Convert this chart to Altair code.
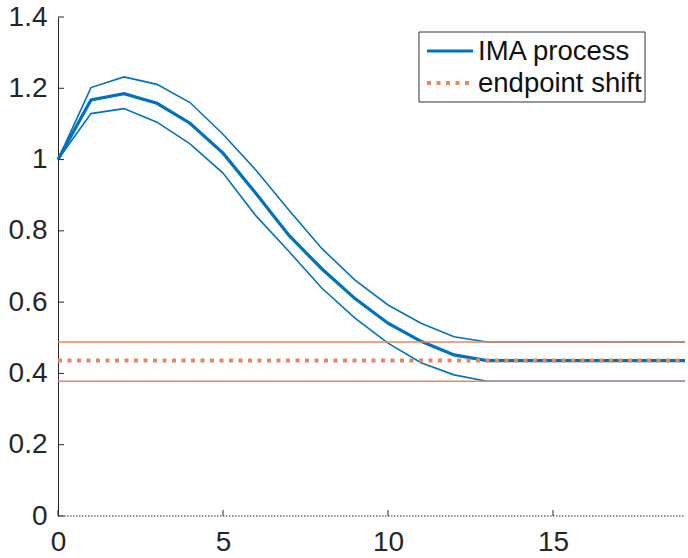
import altair as alt
import pandas as pd

# ---- data ----
steps = list(range(20))
ima_mean = [1.0, 1.167, 1.185, 1.158, 1.102, 1.018, 0.905, 0.787, 0.693, 0.610,
            0.541, 0.490, 0.452, 0.436, 0.436, 0.436, 0.436, 0.436, 0.436, 0.436]
ima_upper = [1.0, 1.202, 1.232, 1.211, 1.160, 1.071, 0.970, 0.858, 0.750, 0.662,
             0.592, 0.541, 0.503, 0.488, 0.488, 0.488, 0.488, 0.488, 0.488, 0.488]
ima_lower = [1.0, 1.129, 1.143, 1.105, 1.044, 0.962, 0.842, 0.742, 0.639, 0.555,
             0.485, 0.430, 0.396, 0.378, 0.378, 0.378, 0.378, 0.378, 0.378, 0.378]
shift_mean = 0.436
shift_upper = 0.488
shift_lower = 0.378
series_names = ["IMA process", "endpoint shift"]
x_ticks = [0, 5, 10, 15]
y_ticks = [0, 0.2, 0.4, 0.6, 0.8, 1.0, 1.2, 1.4]

BLUE = "#0072BD"
ORANGE = "#E6875F"
TXT = "#262626"
FONT = "Liberation Sans"
FS = 28
LFS = 27.5

main_df = pd.DataFrame({"x": steps, "y": ima_mean, "series": series_names[0]})
shift_df = pd.DataFrame({"x": steps, "y": [shift_mean] * len(steps), "series": series_names[1]})
band_df = pd.concat([
    pd.DataFrame({"x": steps, "y": ima_upper, "band": "upper"}),
    pd.DataFrame({"x": steps, "y": ima_lower, "band": "lower"}),
])
shift_band_df = pd.concat([
    pd.DataFrame({"x": steps, "y": [shift_upper] * len(steps), "band": "upper"}),
    pd.DataFrame({"x": steps, "y": [shift_lower] * len(steps), "band": "lower"}),
])

xscale = alt.Scale(domain=[0, 19], nice=False, zero=False)
yscale = alt.Scale(domain=[0, 1.4], nice=False)

x_enc = alt.X("x:Q", scale=xscale, title=None,
              axis=alt.Axis(values=x_ticks, domain=False, ticks=False, grid=False,
                            labelFontSize=FS, labelFont=FONT, labelColor=TXT,
                            labelPadding=12, labelFlush=False))
y_enc = alt.Y("y:Q", scale=yscale, title=None,
              axis=alt.Axis(values=y_ticks, format="~g", domain=True, domainColor=TXT,
                            domainWidth=1, ticks=False, grid=False,
                            labelFontSize=FS, labelFont=FONT, labelColor=TXT,
                            labelPadding=11))

bands = alt.Chart(band_df).mark_line(color=BLUE, strokeWidth=1.6).encode(
    x=x_enc, y=y_enc, detail="band:N")
main = alt.Chart(main_df).mark_line(color=BLUE, strokeWidth=3.2).encode(
    x=x_enc, y=y_enc)
shift_bands = alt.Chart(shift_band_df).mark_line(color=ORANGE, strokeWidth=1.6).encode(
    x=x_enc, y=y_enc, detail="band:N")
shift = alt.Chart(shift_df).mark_line(color=ORANGE, strokeWidth=4, strokeDash=[4, 5.5]).encode(
    x=x_enc, y=y_enc)

zero_df = pd.DataFrame({"y": [0]})
zero_line = alt.Chart(zero_df).mark_rule(color="#222", strokeWidth=1, strokeDash=[1.5, 1.5]).encode(
    y=alt.Y("y:Q", scale=yscale), x=alt.value(0), x2=alt.value(627))

ytick_df = pd.DataFrame({"y": y_ticks})
ytick_marks = alt.Chart(ytick_df).mark_rule(color=TXT, strokeWidth=1).encode(
    y=alt.Y("y:Q", scale=yscale), x=alt.value(0), x2=alt.value(6))
xtick_df = pd.DataFrame({"x": x_ticks})
xtick_marks = alt.Chart(xtick_df).mark_rule(color=TXT, strokeWidth=1).encode(
    x=alt.X("x:Q", scale=xscale), y=alt.value(499), y2=alt.value(493))

# ---- legend (drawn as marks) ----
legend_box = alt.Chart(pd.DataFrame({"k": [0]})).mark_rect(
    fill="white", stroke="#333", strokeWidth=1).encode(
    x=alt.value(361), x2=alt.value(587), y=alt.value(15), y2=alt.value(85))
leg1 = pd.DataFrame({"label": [series_names[0]]})
leg2 = pd.DataFrame({"label": [series_names[1]]})
leg_sym1 = alt.Chart(leg1).mark_rule(color=BLUE, strokeWidth=3.2).encode(
    x=alt.value(369), x2=alt.value(415), y=alt.value(34))
leg_sym2 = alt.Chart(leg2).mark_rule(color=ORANGE, strokeWidth=4, strokeDash=[4, 5.5]).encode(
    x=alt.value(369), x2=alt.value(416), y=alt.value(66))
leg_txt1 = alt.Chart(leg1).mark_text(align="left", baseline="middle", font=FONT,
                                     fontSize=LFS, color="#111").encode(
    x=alt.value(420), y=alt.value(35), text="label:N")
leg_txt2 = alt.Chart(leg2).mark_text(align="left", baseline="middle", font=FONT,
                                     fontSize=LFS, color="#111").encode(
    x=alt.value(420), y=alt.value(67), text="label:N")

chart = alt.layer(
    bands, main, shift_bands, shift, zero_line, ytick_marks, xtick_marks,
    legend_box, leg_sym1, leg_sym2, leg_txt1, leg_txt2
).properties(
    width=627, height=499,
    autosize=alt.AutoSizeParams(type="none"),
    padding={"left": 58, "top": 17, "right": 3, "bottom": 42},
    background="white",
).configure_view(stroke=None)

chart.save("out.html", embed_options={"renderer": "svg", "actions": False})
